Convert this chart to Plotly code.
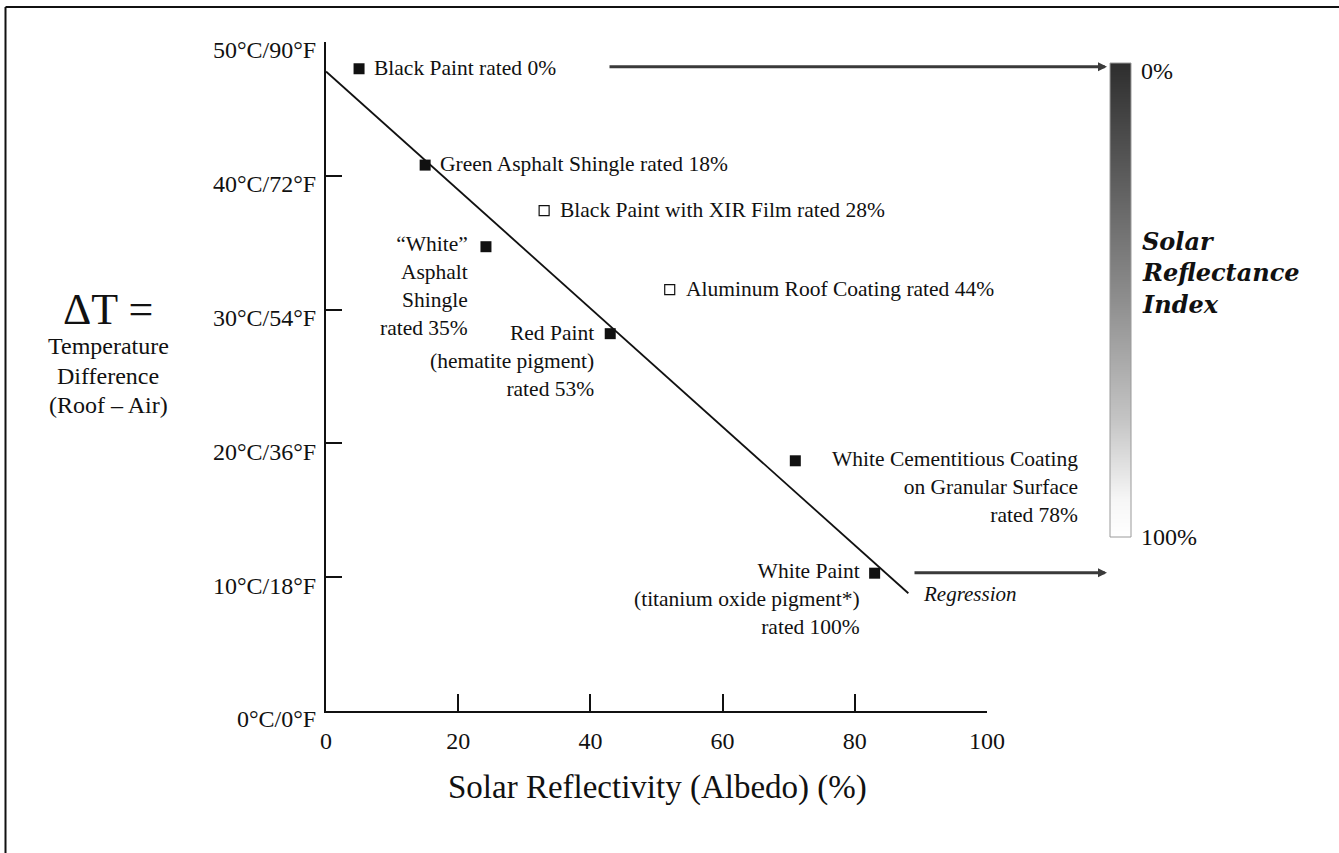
import plotly.graph_objects as go

# ---------------- data ----------------
materials = [
    "Black Paint rated 0%",
    "Green Asphalt Shingle rated 18%",
    "Black Paint with XIR Film rated 28%",
    "“White”<br>Asphalt<br>Shingle<br>rated 35%",
    "Aluminum Roof Coating rated 44%",
    "Red Paint<br>(hematite pigment)<br>rated 53%",
    "White Cementitious Coating<br>on Granular Surface<br>rated 78%",
    "White Paint<br>(titanium oxide pigment*)<br>rated 100%",
]
albedo = [5.0, 15.0, 33.0, 24.2, 52.0, 43.0, 71.0, 83.0]
delta_t = [48.0, 40.8, 37.4, 34.7, 31.5, 28.2, 18.7, 10.3]
filled = [True, True, False, True, False, True, True, True]

regression_x = [0.0, 88.1]
regression_y = [47.8, 8.8]

x_tick_vals = [0, 20, 40, 60, 80, 100]
y_tick_vals = [0, 10, 20, 30, 40, 50]
y_tick_labels = ["0°C/0°F", "10°C/18°F", "20°C/36°F", "30°C/54°F", "40°C/72°F", "50°C/90°F"]

sri_levels = [0, 100]
sri_labels = ["0%", "100%"]

# ---------------- layout helpers ----------------
W, H = 1339, 853
FONT = "Liberation Serif"
INK = "#111111"


def px(x):
    return x / W


def py(y):
    return 1 - y / H


# label placement (xanchor, xshift, yshift)
label_place = [
    ("left", 13, 1),
    ("left", 13, 1),
    ("left", 14, 1),
    ("right", -16, -39),
    ("left", 14, 1),
    ("right", -14, -27),
    ("right", 285, -26),
    ("right", -13, -26),
]

fig = go.Figure()

# regression line
fig.add_trace(go.Scatter(
    x=regression_x, y=regression_y, mode="lines",
    line=dict(color=INK, width=1.8), hoverinfo="skip", showlegend=False,
))

# filled squares
fx = [a for a, f in zip(albedo, filled) if f]
fy = [d for d, f in zip(delta_t, filled) if f]
fig.add_trace(go.Scatter(
    x=fx, y=fy, mode="markers",
    marker=dict(symbol="square", size=11, color=INK, line=dict(width=0)),
    showlegend=False,
))
# open squares
ox = [a for a, f in zip(albedo, filled) if not f]
oy = [d for d, f in zip(delta_t, filled) if not f]
fig.add_trace(go.Scatter(
    x=ox, y=oy, mode="markers",
    marker=dict(symbol="square", size=10, color="white", line=dict(width=1.2, color=INK)),
    showlegend=False,
))

# gradient bar (Solar Reflectance Index)
fig.add_trace(go.Heatmap(
    x=[0, 1], y=sri_levels, z=[[sri_levels[0], sri_levels[0]], [sri_levels[1], sri_levels[1]]],
    xaxis="x2", yaxis="y2", zsmooth="best", showscale=False, hoverinfo="skip",
    colorscale=[[0, "#2e2e2e"], [0.25, "#5e5e5e"], [0.5, "#8e8e8e"],
                [0.75, "#c4c4c4"], [0.92, "#f6f6f6"], [1, "#ffffff"]],
    zmin=0, zmax=100,
))

annotations = []
for name, xv, yv, (xa, xs, ys) in zip(materials, albedo, delta_t, label_place):
    annotations.append(dict(
        x=xv, y=yv, xref="x", yref="y", text=name, showarrow=False,
        xanchor=xa, yanchor="middle", xshift=xs, yshift=ys,
        align="right" if xa == "right" else "left",
        font=dict(family=FONT, size=21.5, color=INK),
    ))

# regression label
annotations.append(dict(
    x=regression_x[1], y=regression_y[1], xref="x", yref="y", text="<i>Regression</i>",
    showarrow=False, xanchor="left", yanchor="middle", xshift=13, yshift=-1,
    font=dict(family=FONT, size=21, color=INK),
))

# axis titles
annotations.append(dict(
    x=px(657), y=py(787), xref="paper", yref="paper", text="Solar Reflectivity (Albedo) (%)",
    showarrow=False, xanchor="center", yanchor="middle",
    font=dict(family=FONT, size=33, color=INK),
))
annotations.append(dict(
    x=px(108), y=py(309), xref="paper", yref="paper", text="ΔT =",
    showarrow=False, xanchor="center", yanchor="middle",
    font=dict(family=FONT, size=44, color=INK),
))
for txt, yy in zip(["Temperature", "Difference", "(Roof – Air)"], [346, 376, 405]):
    annotations.append(dict(
        x=px(108), y=py(yy), xref="paper", yref="paper", text=txt,
        showarrow=False, xanchor="center", yanchor="middle",
        font=dict(family=FONT, size=24, color=INK),
    ))
for txt, yy in zip(["Solar", "Reflectance", "Index"], [241, 272, 304]):
    annotations.append(dict(
        x=px(1140), y=py(yy), xref="paper", yref="paper", text="<b><i>" + txt + "</i></b>",
        showarrow=False, xanchor="left", yanchor="middle",
        font=dict(family="DejaVu Serif", size=24, color=INK),
    ))
# SRI end labels
for txt, yy in zip(sri_labels, [71, 537]):
    annotations.append(dict(
        x=px(1139), y=py(yy), xref="paper", yref="paper", text=txt,
        showarrow=False, xanchor="left", yanchor="middle",
        font=dict(family=FONT, size=24, color=INK),
    ))

# arrows pointing to the SRI scale
for tail_x, yy in [(608, 66.7), (913, 572.7)]:
    annotations.append(dict(
        x=px(1107), y=py(yy), xref="paper", yref="paper", text="",
        showarrow=True, ax=-(1107 - tail_x), ay=0, axref="pixel", ayref="pixel",
        arrowhead=2, arrowsize=0.6, arrowwidth=3, arrowcolor="#3a3a3a", standoff=0,
    ))

shapes = [
    # page frame (top and left edges)
    dict(type="line", xref="paper", yref="paper", x0=px(5.5), x1=1, y0=py(7), y1=py(7),
         line=dict(color=INK, width=2)),
    dict(type="line", xref="paper", yref="paper", x0=px(5.5), x1=px(5.5), y0=0, y1=py(7),
         line=dict(color=INK, width=2)),
    # SRI bar outline
    dict(type="rect", xref="paper", yref="paper", x0=px(1110), x1=px(1131),
         y0=py(537), y1=py(63), line=dict(color="#9a9a9a", width=1)),
]

fig.update_layout(
    width=W, height=H,
    margin=dict(l=0, r=0, t=0, b=0),
    paper_bgcolor="white", plot_bgcolor="white",
    showlegend=False,
    xaxis=dict(
        domain=[px(326), px(987)], range=[0, 100], tickvals=x_tick_vals,
        ticks="inside", ticklen=17, tickwidth=2, tickcolor=INK,
        showline=True, linewidth=2, linecolor=INK, showgrid=False, zeroline=False,
        tickfont=dict(family=FONT, size=24, color=INK), ticklabelstandoff=7,
        automargin=False,
    ),
    yaxis=dict(
        domain=[py(711), py(42)], range=[0, 50], tickvals=y_tick_vals, ticktext=y_tick_labels,
        ticks="inside", ticklen=16, tickwidth=2, tickcolor=INK,
        showline=True, linewidth=2, linecolor=INK, showgrid=False, zeroline=False,
        tickfont=dict(family=FONT, size=24, color=INK), ticklabelstandoff=3,
        ticklabelshift=8, automargin=False,
    ),
    xaxis2=dict(domain=[px(1110), px(1131)], range=[0, 1], visible=False, anchor="y2"),
    yaxis2=dict(domain=[py(537), py(63)], range=[100, 0], visible=False, anchor="x2"),
    annotations=annotations,
    shapes=shapes,
)

fig.write_html("out.html")
